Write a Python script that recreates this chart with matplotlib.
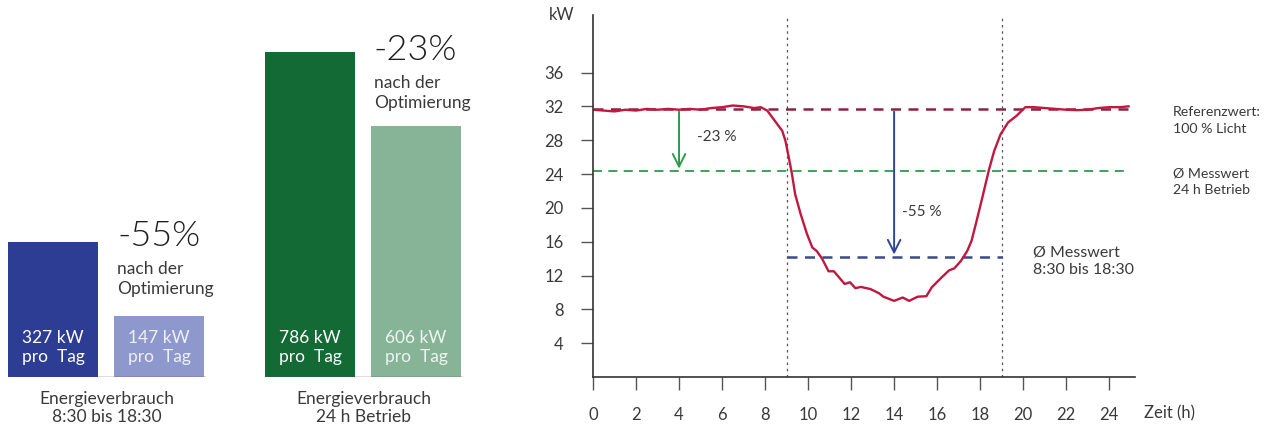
import matplotlib.pyplot as plt
import numpy as np

plt.rcParams["font.family"] = ["Lato", "DejaVu Sans"]

# ---- data -------------------------------------------------------------
# bar blocks (kW pro Tag)
bar_labels = ["327 kW\npro  Tag", "147 kW\npro  Tag", "786 kW\npro  Tag", "606 kW\npro  Tag"]
bar_values = [327, 147, 786, 606]
bar_colors = ["#2E3D94", "#8F98CC", "#136A34", "#87B497"]
group_titles = ["Energieverbrauch\n8:30 bis 18:30", "Energieverbrauch\n24 h Betrieb"]
group_reduction = ["-55%", "-23%"]

# load profile over the day
hours = [0, 0.5, 1, 1.5, 2, 2.5, 3, 3.5, 4, 4.5, 5, 5.5, 6, 6.5, 7, 7.5, 7.8, 8.1,
         8.45, 8.8, 8.95, 9.1, 9.25, 9.4, 9.65, 9.95, 10.2, 10.4, 10.65, 10.95, 11.2,
         11.5, 11.7, 11.95, 12.2, 12.45, 12.9, 13.3, 13.5, 14.0, 14.4, 14.7, 15.1,
         15.5, 15.75, 16.2, 16.55, 16.8, 17.1, 17.4, 17.6, 17.8, 18.1, 18.4, 18.65,
         18.95, 19.3, 19.7, 20.1, 20.5, 21, 21.5, 22, 22.5, 23, 23.5, 24, 24.5, 24.9]
power_kw = [31.6, 31.5, 31.4, 31.6, 31.5, 31.7, 31.6, 31.7, 31.6, 31.7, 31.6, 31.8,
            31.9, 32.1, 32.0, 31.8, 31.9, 31.5, 30.3, 29.1, 27.9, 26.0, 24.0, 21.6,
            19.3, 16.9, 15.3, 14.9, 14.0, 12.5, 12.5, 11.6, 11.0, 11.2, 10.5, 10.65,
            10.4, 9.9, 9.5, 9.0, 9.4, 9.0, 9.5, 9.55, 10.6, 11.75, 12.6, 12.85, 13.7,
            14.9, 16.1, 18.1, 21.2, 24.4, 26.7, 28.7, 30.1, 30.9, 31.9, 31.9, 31.8,
            31.7, 31.6, 31.55, 31.6, 31.8, 31.9, 31.9, 32.0]

ref_value = 31.7        # Referenzwert 100 % Licht
mean_24h = 24.3         # Ø Messwert 24 h Betrieb
mean_day = 14.15        # Ø Messwert 8:30 bis 18:30
day_window = (9, 19)

y_ticks = [4, 8, 12, 16, 20, 24, 28, 32, 36]
x_ticks = list(range(0, 25, 2))

text_col = "#3a3a3a"

fig = plt.figure(figsize=(12.64, 4.28), dpi=100)

# ---- left: bar blocks --------------------------------------------------
axb = fig.add_axes([0, 51 / 428, 480 / 1264, 377 / 428])
axb.set_xlim(0, 480)
axb.set_ylim(0, 377 / 0.4135)
axb.axis("off")

centers = [53, 159, 310, 416]
axb.bar(centers, bar_values, width=90, color=bar_colors)
for c, lab, col in zip(centers, bar_labels, ["white", "#eef0f8", "white", "#eef5f0"]):
    axb.text(c, 72, lab, ha="center", va="center", color=col, fontsize=12.5,
             linespacing=1.25)

for (x0, x1), title, red, top in zip([(8, 205), (265, 462)], group_titles,
                                     group_reduction, [341, 791]):
    axb.plot([x0, x1], [0, 0], color="#555555", lw=1)
    axb.text((x0 + x1) / 2, -75, title, ha="center", va="center", color=text_col,
             fontsize=12.5, linespacing=1.2, clip_on=False)
    axb.text(x1 - 88, top, red, ha="left", va="center", color="#1e1e1e",
             fontsize=26, fontweight=300)
    axb.text(x1 - 88, top - 104, "nach der\nOptimierung", ha="left", va="center",
             color=text_col, fontsize=12.5, linespacing=1.3)

# ---- right: load profile -----------------------------------------------
ax = fig.add_axes([593 / 1264, 51 / 428, 542 / 1264, 362 / 428])
ax.set_xlim(0, 25.2)
ax.set_ylim(0, 42.8)

for v in day_window:
    ax.axvline(v, color="#555555", lw=0.9, ls=(0, (2, 3)))

ax.plot([0, 24.9], [ref_value] * 2, color="#8B2346", lw=1.8, ls=(0, (4, 3)))
ax.plot([0, 24.9], [mean_24h] * 2, color="#2E9A4A", lw=1.3, ls=(0, (5, 3.5)))
ax.plot(day_window, [mean_day] * 2, color="#3A4A8C", lw=1.8, ls=(0, (4, 3)))

ax.plot(hours, power_kw, color="#C0183F", lw=1.7)

ax.annotate("", xy=(4, mean_24h), xytext=(4, ref_value),
            arrowprops=dict(arrowstyle="->,head_length=0.9,head_width=0.45",
                            color="#2E9A4A", lw=1.4))
ax.annotate("", xy=(14, mean_day), xytext=(14, ref_value),
            arrowprops=dict(arrowstyle="->,head_length=0.9,head_width=0.45",
                            color="#2F4594", lw=1.4))
ax.text(4.85, 28.4, "-23 %", fontsize=11, color=text_col, va="center")
ax.text(14.35, 19.5, "-55 %", fontsize=11, color=text_col, va="center")

ax.text(26.95, 30.3, "Referenzwert:\n100 % Licht", fontsize=10.2, color=text_col,
        va="center", linespacing=1.5, clip_on=False)
ax.text(26.95, 23.1, "Ø Messwert\n24 h Betrieb", fontsize=10.2, color=text_col,
        va="center", linespacing=1.5, clip_on=False)
ax.text(20.45, 13.7, "Ø Messwert\n8:30 bis 18:30", fontsize=11.5, color=text_col,
        va="center", linespacing=1.35, clip_on=False)

ax.spines[["top", "right"]].set_visible(False)
for s in ["left", "bottom"]:
    ax.spines[s].set_color("#333333")
    ax.spines[s].set_linewidth(1.2)

ax.set_yticks(y_ticks)
ax.set_xticks(x_ticks)
ax.tick_params(axis="y", direction="out", length=9, width=1, color="#555555",
               pad=12, labelsize=12, labelcolor=text_col)
ax.tick_params(axis="x", direction="out", length=9.5, width=1, color="#555555",
               pad=12, labelsize=12, labelcolor=text_col)

ax.text(-0.057, 1.0, "kW", transform=ax.transAxes, fontsize=12, color=text_col,
        ha="center", va="center")
ax.text(25.6, -4.3, "Zeit (h)", fontsize=12, color=text_col, ha="left",
        va="center", clip_on=False)

fig.savefig("out.png", dpi=100)
